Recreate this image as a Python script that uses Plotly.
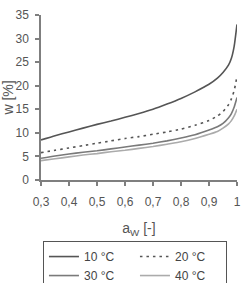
import plotly.graph_objects as go

aw = [0.3, 0.35, 0.4, 0.45, 0.5, 0.55, 0.6, 0.65, 0.7, 0.75, 0.8, 0.85, 0.9, 0.93, 0.95, 0.97, 0.98, 0.99, 1.0]
w_10 = [8.5, 9.4, 10.2, 11.0, 11.8, 12.5, 13.3, 14.1, 15.0, 16.1, 17.3, 18.7, 20.3, 21.6, 22.8, 24.4, 25.8, 28.4, 33.0]
w_20 = [5.8, 6.3, 6.8, 7.3, 7.8, 8.3, 8.8, 9.2, 9.7, 10.2, 10.8, 11.6, 12.6, 13.6, 14.5, 16.0, 17.2, 19.0, 22.0]
w_30 = [4.6, 5.1, 5.5, 5.9, 6.2, 6.6, 7.0, 7.4, 7.8, 8.3, 8.9, 9.6, 10.6, 11.3, 12.0, 13.2, 14.1, 15.5, 17.5]
w_40 = [4.1, 4.5, 4.9, 5.3, 5.6, 6.0, 6.3, 6.7, 7.1, 7.6, 8.1, 8.8, 9.7, 10.3, 11.0, 11.9, 12.6, 13.6, 15.0]
names = ["10 °C", "20 °C", "30 °C", "40 °C"]
x_ticks = [0.3, 0.4, 0.5, 0.6, 0.7, 0.8, 0.9, 1.0]
x_labels = ["0,3", "0,4", "0,5", "0,6", "0,7", "0,8", "0,9", "1"]
y_ticks = [0, 5, 10, 15, 20, 25, 30, 35]

series = [w_10, w_20, w_30, w_40]
colors = ["#555555", "#555555", "#7a7a7a", "#ababab"]
dashes = ["solid", "2.5px,4px", "solid", "solid"]

fig = go.Figure()
for nm, ys, c, d in zip(names, series, colors, dashes):
    fig.add_trace(go.Scatter(x=aw, y=ys, mode="lines", name=nm,
                             line=dict(color=c, width=1.6, dash=d, shape="spline", smoothing=0.5)))

axis_col = "#7f7f7f"
font_col = "#555555"
fig.update_layout(
    width=241, height=283,
    margin=dict(l=41, r=4, t=15, b=103, autoexpand=False),
    paper_bgcolor="white", plot_bgcolor="white",
    font=dict(family="Liberation Sans, Arial, sans-serif", size=12, color=font_col),
    showlegend=True,
    legend=dict(orientation="h", x=0.01, xanchor="left", y=-0.37, yanchor="top",
                bordercolor="#555555", borderwidth=1, entrywidth=46, entrywidthmode="pixels",
                font=dict(size=12, color="#444444"), tracegroupgap=0),
)
fig.update_xaxes(range=[0.3, 1.0], tickvals=x_ticks, ticktext=x_labels,
                 showgrid=False, zeroline=False, showline=True, linecolor=axis_col, linewidth=1.5,
                 ticks="outside", ticklen=4, tickcolor=axis_col, tickwidth=1.5, ticklabelstandoff=6,
                 title=dict(text="a<sub>W</sub> [-]", standoff=15), automargin=False)
fig.update_yaxes(range=[0, 35], tickvals=y_ticks,
                 showgrid=False, zeroline=False, showline=True, linecolor=axis_col, linewidth=1.5,
                 ticks="outside", ticklen=4, tickcolor=axis_col, tickwidth=1.5, ticklabelstandoff=4,
                 title=dict(text="w [%]", standoff=0), automargin=False)
fig.write_html("out.html")
